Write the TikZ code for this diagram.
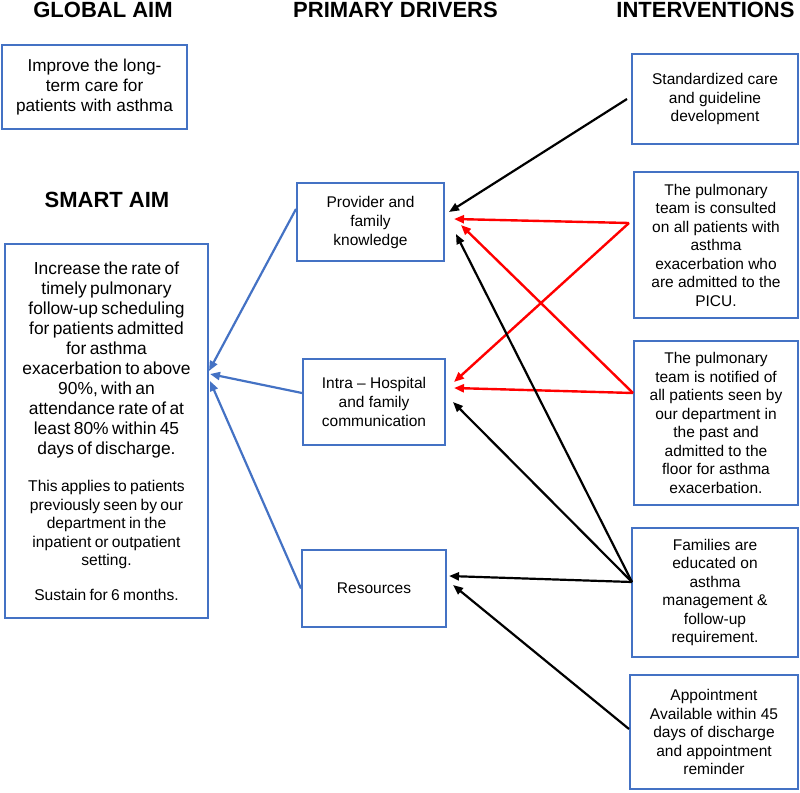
\documentclass[tikz,border=0pt]{standalone}
\usepackage{fontspec}
\setmainfont{Liberation Sans}
\usetikzlibrary{arrows.meta}
\definecolor{boxblue}{HTML}{4472C4}
\definecolor{arrred}{HTML}{FF0000}
\tikzset{
  hdr/.style={font=\fontsize{22}{26}\selectfont\bfseries, inner sep=0pt},
  bx/.style={draw=boxblue, line width=2pt, align=center, inner sep=2pt},
  bigtxt/.style={font=\fontsize{17.2}{20}\selectfont},
  midtxt/.style={font=\fontsize{15.5}{19}\selectfont},
  inttxt/.style={font=\fontsize{15.5}{18.5}\selectfont},
  bluearr/.style={draw=boxblue, line width=2.2pt, -{Triangle[length=10pt,width=8pt]}},
  blackarr/.style={draw=black, line width=2.2pt, -{Triangle[length=10pt,width=8pt]}},
  redarr/.style={draw=arrred, line width=2.4pt, -{Triangle[length=10pt,width=8pt]}},
}
\begin{document}
\begin{tikzpicture}[x=1pt,y=-1pt]
\useasboundingbox (0,0) rectangle (800,792);
% headers
\node[hdr] (hglobal) at (103,9.5) {GLOBAL AIM};
\node[hdr] (hprim) at (395.5,9.5) {PRIMARY DRIVERS};
\node[hdr] (hint) at (705.5,9.5) {INTERVENTIONS};
\node[hdr] (hsmart) at (107,200) {SMART AIM};
% global aim
\node[bx, bigtxt, minimum width=185pt, minimum height=84pt] (global) at (94.5,87)
  {Improve the long-\\term care for\\patients with asthma};
% smart aim
\node[bx, minimum width=203pt, minimum height=374pt, text width=196pt] (smart) at (106.5,431)
  {\fontsize{17.4}{20}\selectfont Increase the rate of\\timely pulmonary\\follow-up scheduling\\for patients admitted\\for asthma\\exacerbation to above\\90\%, with an\\attendance rate of at\\least 80\% within 45\\days of discharge.\par
   \vspace{19pt}\fontsize{15.6}{18.5}\selectfont This applies to patients\\previously seen by our\\department in the\\inpatient or outpatient\\setting.\par
   \vspace{16pt}Sustain for 6 months.\par};
% drivers
\node[bx, midtxt, minimum width=147pt, minimum height=78pt] (prov) at (370.5,222)
  {Provider and\\family\\knowledge};
\node[bx, midtxt, minimum width=142pt, minimum height=86pt] (intra) at (374,402)
  {Intra – Hospital\\and family\\communication};
\node[bx, midtxt, minimum width=144pt, minimum height=77pt] (res) at (374,588.5)
  {Resources};
% interventions
\node[bx, inttxt, minimum width=166pt, minimum height=90pt] (i1) at (715,99)
  {Standardized care\\and guideline\\development};
\node[bx, inttxt, minimum width=164pt, minimum height=146pt] (i2) at (716,245)
  {The pulmonary\\team is consulted\\on all patients with\\asthma\\exacerbation who\\are admitted to the\\PICU.};
\node[bx, inttxt, minimum width=164pt, minimum height=164pt] (i3) at (716,423)
  {The pulmonary\\team is notified of\\all patients seen by\\our department in\\the past and\\admitted to the\\floor for asthma\\exacerbation.};
\node[bx, inttxt, minimum width=166pt, minimum height=129pt] (i4) at (715,592.5)
  {Families are\\educated on\\asthma\\management \&\\follow-up\\requirement.};
\node[bx, inttxt, minimum width=168pt, minimum height=114pt] (i5) at (714,732)
  {Appointment\\Available within 45\\days of discharge\\and appointment\\reminder};
% blue connectors
\draw[bluearr] ([yshift=13pt]prov.west) -- ([yshift=60pt]smart.east);
\draw[bluearr] ([yshift=9pt]intra.west) -- ([shift={(1pt,57pt)}]smart.east);
\draw[bluearr] (res.west) -- ([shift={(1pt,50pt)}]smart.east);
% black / red connectors
\draw[blackarr] ([xshift=-4pt]i1.west) -- ([shift={(4pt,10pt)}]prov.east);
\draw[redarr] ([shift={(-4pt,22pt)}]i2.west) -- ([shift={(9pt,3pt)}]prov.east);
\draw[redarr] ([shift={(-4pt,22pt)}]i2.west) -- ([shift={(8pt,20pt)}]intra.east);
\draw[redarr] ([yshift=30pt]i3.west) -- ([shift={(16pt,-3pt)}]prov.east);
\draw[redarr] ([yshift=30pt]i3.west) -- ([shift={(8pt,14pt)}]intra.east);
\draw[blackarr] ([shift={(1pt,10.5pt)}]i4.west) -- ([shift={(11pt,-12pt)}]prov.east);
\draw[blackarr] ([shift={(1pt,10.5pt)}]i4.west) -- ([shift={(7pt,0pt)}]intra.east);
\draw[blackarr] ([shift={(1pt,10.5pt)}]i4.west) -- ([shift={(2pt,12.5pt)}]res.east);
\draw[blackarr] ([yshift=3pt]i5.west) -- ([shift={(6pt,3.5pt)}]res.east);
\end{tikzpicture}
\end{document}
